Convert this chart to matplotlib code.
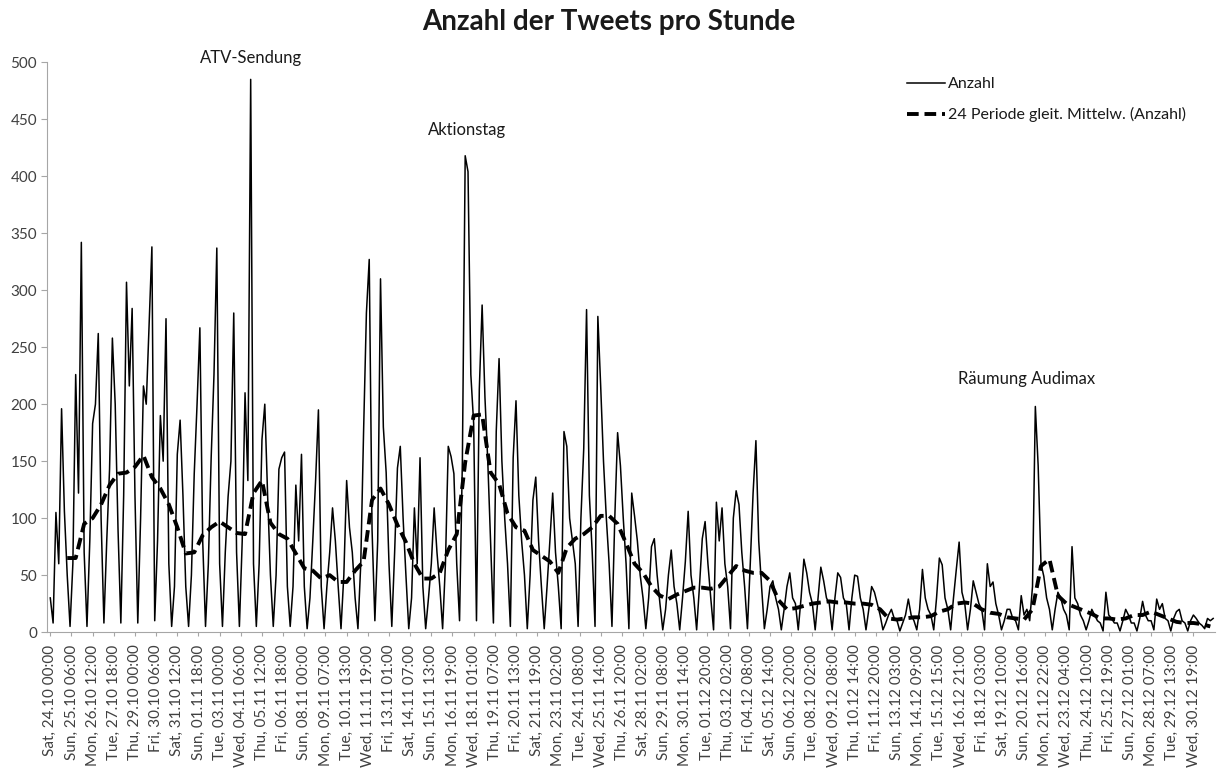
import numpy as np
import matplotlib
matplotlib.use("Agg")
import matplotlib.pyplot as plt

plt.rcParams["font.family"] = ["Lato", "DejaVu Sans"]

# Tweets per hour in 4-hour steps (00, 04, 08, 12, 16, 20 h)
counts_oct = [
    30, 8, 105, 60, 196, 106,      # Sat 24.10
    50, 5, 60, 226, 122, 342,      # Sun 25.10
    70, 5, 80, 183, 200, 262,      # Mon 26.10
    100, 8, 80, 143, 258, 200,     # Tue 27.10
    90, 8, 120, 307, 216, 284,     # Wed 28.10
    120, 8, 100, 216, 200, 268,    # Thu 29.10
    338, 10, 80, 190, 150, 275,    # Fri 30.10
    60, 5, 40, 156, 186, 120,      # Sat 31.10
]
counts_nov = [
    40, 5, 50, 139, 200, 267,      # Sun 01.11
    80, 5, 60, 153, 226, 337,
    60, 5, 70, 119, 150, 280,
    70, 5, 80, 210, 133, 485,      # Wed 04.11 (ATV)
    60, 5, 60, 169, 200, 120,
    50, 5, 50, 143, 153, 158,
    40, 5, 40, 129, 80, 156,
    40, 3, 30, 80, 133, 195,       # Sun 08.11
    40, 3, 40, 70, 109, 80,
    40, 3, 50, 133, 92, 70,
    30, 3, 60, 176, 280, 327,
    90, 10, 80, 310, 180, 140,
    60, 5, 70, 144, 163, 100,
    50, 3, 30, 109, 60, 153,
    40, 3, 30, 60, 109, 70,        # Sun 15.11
    40, 3, 60, 163, 154, 139,
    60, 10, 150, 418, 404, 226,    # Tue 17.11 (Aktionstag)
    183, 10, 213, 287, 206, 150,
    80, 8, 176, 240, 150, 100,
    60, 5, 153, 203, 120, 80,
    50, 3, 50, 116, 136, 80,
    40, 3, 40, 80, 122, 70,        # Sun 22.11
    40, 3, 176, 163, 100, 80,
    60, 5, 100, 161, 283, 120,
    70, 5, 277, 216, 150, 100,
    60, 5, 100, 175, 146, 100,
    60, 3, 122, 102, 80, 50,
    30, 3, 30, 75, 82, 50,
    25, 2, 20, 50, 72, 40,         # Sun 29.11
    25, 2, 30, 62, 106, 50,
]
counts_dec = [
    30, 2, 40, 82, 97, 60,         # Tue 01.12
    30, 2, 114, 80, 109, 60,
    40, 3, 100, 124, 112, 70,
    40, 3, 60, 122, 168, 80,
    40, 3, 20, 40, 45, 30,
    20, 2, 20, 40, 52, 30,         # Sun 06.12
    25, 2, 30, 64, 52, 35,
    25, 2, 30, 57, 45, 30,
    25, 2, 30, 52, 48, 30,
    25, 2, 30, 50, 49, 30,
    20, 2, 20, 40, 35, 25,
    15, 2, 8, 15, 20, 12,
    10, 1, 8, 15, 29, 15,          # Sun 13.12
    10, 2, 20, 55, 30, 20,
    15, 2, 30, 65, 59, 30,
    20, 2, 30, 55, 79, 35,
    25, 2, 20, 45, 35, 25,
    20, 2, 60, 40, 44, 25,
    15, 2, 10, 20, 20, 12,
    10, 2, 32, 15, 20, 10,         # Sun 20.12
    40, 198, 146, 60, 49, 30,      # Mon 21.12 (Räumung)
    20, 2, 20, 35, 30, 20,
    15, 2, 75, 30, 25, 15,
    10, 2, 10, 20, 15, 10,
    8, 1, 35, 15, 12, 8,
    8, 1, 10, 20, 15, 8,
    8, 1, 12, 27, 15, 10,          # Sun 27.12
    10, 2, 29, 20, 25, 12,
    10, 1, 12, 18, 20, 10,
    8, 1, 10, 15, 12, 8,
    6, 3, 12, 10, 12,              # Thu 31.12
]

# 24-period moving average, every 12 hours (from hour 24)
ma_values = [
    65, 65, 95, 100, 112, 129, 139, 140, 145, 155, 136, 126,
    112, 92, 69, 70, 85, 92, 97, 92, 87, 86, 122, 133,
    96, 86, 82, 69, 56, 54, 47, 50, 44, 44, 54, 62,
    116, 126, 112, 94, 79, 60, 47, 47, 52, 72, 86, 149,
    190, 191, 140, 130, 104, 92, 89, 72, 67, 62, 52, 74,
    82, 86, 92, 102, 102, 95, 78, 60, 52, 40, 32, 29,
    33, 36, 39, 39, 38, 40, 49, 58, 54, 52, 52, 45,
    28, 20, 21, 23, 25, 26, 27, 26, 26, 25, 25, 24,
    20, 12, 11, 12, 13, 13, 14, 18, 20, 25, 26, 25,
    20, 17, 16, 13, 12, 11, 20, 58, 64, 32, 25, 22,
    19, 16, 12, 12, 11, 12, 15, 15, 18, 15, 12, 9,
    8, 8, 7, 5,
]

tick_labels = [
    "Sat, 24.10 00:00", "Sun, 25.10 06:00", "Mon, 26.10 12:00", "Tue, 27.10 18:00",
    "Thu, 29.10 00:00", "Fri, 30.10 06:00", "Sat, 31.10 12:00", "Sun, 01.11 18:00",
    "Tue, 03.11 00:00", "Wed, 04.11 06:00", "Thu, 05.11 12:00", "Fri, 06.11 18:00",
    "Sun, 08.11 00:00", "Mon, 09.11 07:00", "Tue, 10.11 13:00", "Wed, 11.11 19:00",
    "Fri, 13.11 01:00", "Sat, 14.11 07:00", "Sun, 15.11 13:00", "Mon, 16.11 19:00",
    "Wed, 18.11 01:00", "Thu, 19.11 07:00", "Fri, 20.11 13:00", "Sat, 21.11 19:00",
    "Mon, 23.11 02:00", "Tue, 24.11 08:00", "Wed, 25.11 14:00", "Thu, 26.11 20:00",
    "Sat, 28.11 02:00", "Sun, 29.11 08:00", "Mon, 30.11 14:00", "Tue, 01.12 20:00",
    "Thu, 03.12 02:00", "Fri, 04.12 08:00", "Sat, 05.12 14:00", "Sun, 06.12 20:00",
    "Tue, 08.12 02:00", "Wed, 09.12 08:00", "Thu, 10.12 14:00", "Fri, 11.12 20:00",
    "Sun, 13.12 03:00", "Mon, 14.12 09:00", "Tue, 15.12 15:00", "Wed, 16.12 21:00",
    "Fri, 18.12 03:00", "Sat, 19.12 10:00", "Sun, 20.12 16:00", "Mon, 21.12 22:00",
    "Wed, 23.12 04:00", "Thu, 24.12 10:00", "Fri, 25.12 19:00", "Sun, 27.12 01:00",
    "Mon, 28.12 07:00", "Tue, 29.12 13:00", "Wed, 30.12 19:00",
]

events = ["ATV-Sendung", "Aktionstag", "Räumung Audimax"]

counts = np.array(counts_oct + counts_nov + counts_dec, dtype=float)
hours = 4 * np.arange(len(counts))
ma = np.array(ma_values, dtype=float)
ma_hours = 24 + 12 * np.arange(len(ma))

GRAY = "#A6A6A6"
TXT = "#404040"

fig = plt.figure(figsize=(12.17, 7.69), dpi=100)
ax = fig.add_axes([0.039, 0.178, 0.959, 0.741])

ax.plot(hours, counts, color="black", lw=1.1, label="Anzahl")
ax.plot(ma_hours, ma, color="black", lw=2.8, dashes=(3, 1.5),
        label="24 Periode gleit. Mittelw. (Anzahl)")

ax.set_xlim(-4, 1650)
ax.set_ylim(0, 500)
ax.set_yticks(np.arange(0, 501, 50))
ax.tick_params(axis="y", labelsize=11, colors=TXT, length=4, color=GRAY)
ax.set_xticks(30 * np.arange(len(tick_labels)))
ax.set_xticklabels(tick_labels, rotation=90, fontsize=11, color=TXT)
ax.tick_params(axis="x", length=3, color=GRAY, pad=6)
for s in ["top", "right"]:
    ax.spines[s].set_visible(False)
for s in ["left", "bottom"]:
    ax.spines[s].set_color(GRAY)

fig.text(0.5, 0.971, "Anzahl der Tweets pro Stunde", ha="center", va="center",
         fontsize=20, fontweight="bold", color="#1a1a1a")

ax.text(285, 497, events[0], ha="center", va="bottom", fontsize=12, color="#1a1a1a", clip_on=False)
ax.text(590, 434, events[1], ha="center", va="bottom", fontsize=12, color="#1a1a1a")
ax.text(1384, 215, events[2], ha="center", va="bottom", fontsize=12, color="#1a1a1a")

leg = ax.legend(loc="upper left", bbox_to_anchor=(0.724, 0.999), frameon=False,
                fontsize=11.5, handlelength=2.4, handletextpad=0.2, labelspacing=1.0)
for t in leg.get_texts():
    t.set_color("#1a1a1a")

plt.savefig("out.png", dpi=100)
plt.close()
